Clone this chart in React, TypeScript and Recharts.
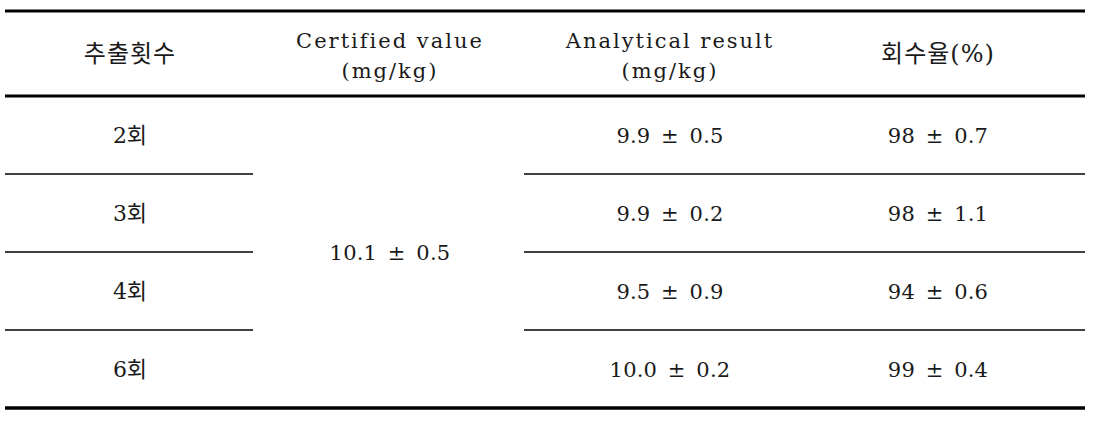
import React from "react";
import { ComposedChart, XAxis, YAxis, Scatter, ReferenceLine } from "recharts";

// ---- table content (data) ----
const headerLabels: string[][] = [
  ["추출횟수"],
  ["Certified value", "(mg/kg)"],
  ["Analytical result", "(mg/kg)"],
  ["회수율(%)"],
];
const extractionCounts = ["2회", "3회", "4회", "6회"];
const certifiedMean = 10.1;
const certifiedSD = 0.5;
const analyticalMean = [9.9, 9.9, 9.5, 10.0];
const analyticalSD = [0.5, 0.2, 0.9, 0.2];
const recoveryMean = [98, 98, 94, 99];
const recoverySD = [0.7, 1.1, 0.6, 0.4];

// ---- layout (pixel-unit axis space) ----
const W = 1095;
const H = 421;
const colCenters = [130, 390, 670, 938];
const tableLeft = 5;
const tableRight = 1085;
const topRule = 11;
const headerRule = 96;
const bottomRule = 408;
const rowHeight = (bottomRule - headerRule) / extractionCounts.length;
const mergedGapLeft = 253;
const mergedGapRight = 524;
const headerSingleBaseline = 62;
const headerTwoLineBaselines = [48, 78];
const bodyBaselineOffset = 8;

const fontFamily = '"DejaVu Serif", "Noto Sans CJK KR", serif';
const GAP = "\u2002";
const pm = (a: string, b: string) => `${a}${GAP}±${GAP}${b}`;

type Cell = { x: number; y: number; text: string; kind: string };

const hasHangul = (s: string) => /[\uac00-\ud7a3]/.test(s);

const cells: Cell[] = [];
headerLabels.forEach((lines, c) => {
  lines.forEach((t, i) => {
    const y = lines.length === 1 ? headerSingleBaseline : headerTwoLineBaselines[i];
    cells.push({ x: colCenters[c], y, text: t, kind: hasHangul(t) ? "headerKo" : "header" });
  });
});
extractionCounts.forEach((lab, r) => {
  const y = headerRule + rowHeight * (r + 0.5) + bodyBaselineOffset;
  cells.push({ x: colCenters[0], y, text: lab, kind: "bodyKo" });
  cells.push({
    x: colCenters[2],
    y,
    text: pm(analyticalMean[r].toFixed(1), analyticalSD[r].toFixed(1)),
    kind: "body",
  });
  cells.push({
    x: colCenters[3],
    y,
    text: pm(String(recoveryMean[r]), recoverySD[r].toFixed(1)),
    kind: "body",
  });
});
cells.push({
  x: colCenters[1],
  y: (headerRule + bottomRule) / 2 + bodyBaselineOffset,
  text: pm(certifiedMean.toFixed(1), certifiedSD.toFixed(1)),
  kind: "body",
});

const rowRules = extractionCounts.slice(1).map((_, i) => headerRule + rowHeight * (i + 1));

const STYLE: Record<string, { fontSize: number; letterSpacing: number }> = {
  header: { fontSize: 21, letterSpacing: 2 },
  headerKo: { fontSize: 24, letterSpacing: 1 },
  body: { fontSize: 21, letterSpacing: 0.2 },
  bodyKo: { fontSize: 22, letterSpacing: 0 },
};

const CellText = (props: any) => {
  const { cx, cy, payload } = props;
  const { fontSize, letterSpacing } = STYLE[payload.kind];
  return (
    <text
      x={cx}
      y={cy}
      textAnchor="middle"
      fill="#1a1a1a"
      style={{ whiteSpace: "pre", fontFamily, fontSize, letterSpacing }}
    >
      {payload.text}
    </text>
  );
};

export default function App() {
  return (
    <div style={{ position: "absolute", left: 0, top: 0, width: W, height: H, background: "#fff" }}>
      <ComposedChart width={W} height={H} margin={{ top: 0, right: 0, bottom: 0, left: 0 }}>
        <XAxis type="number" dataKey="x" domain={[0, W]} hide allowDataOverflow />
        <YAxis type="number" dataKey="y" domain={[0, H]} reversed hide allowDataOverflow />
        <ReferenceLine
          segment={[{ x: tableLeft, y: topRule }, { x: tableRight, y: topRule }]}
          stroke="#000"
          strokeWidth={3}
        />
        <ReferenceLine
          segment={[{ x: tableLeft, y: headerRule }, { x: tableRight, y: headerRule }]}
          stroke="#000"
          strokeWidth={3}
        />
        <ReferenceLine
          segment={[{ x: tableLeft, y: bottomRule }, { x: tableRight, y: bottomRule }]}
          stroke="#000"
          strokeWidth={3.5}
        />
        {rowRules.map((y) => (
          <ReferenceLine
            key={`l${y}`}
            segment={[{ x: tableLeft, y }, { x: mergedGapLeft, y }]}
            stroke="#000"
            strokeWidth={1.5}
          />
        ))}
        {rowRules.map((y) => (
          <ReferenceLine
            key={`r${y}`}
            segment={[{ x: mergedGapRight, y }, { x: tableRight, y }]}
            stroke="#000"
            strokeWidth={1.5}
          />
        ))}
        <Scatter data={cells} dataKey="y" shape={CellText} isAnimationActive={false} />
      </ComposedChart>
    </div>
  );
}
